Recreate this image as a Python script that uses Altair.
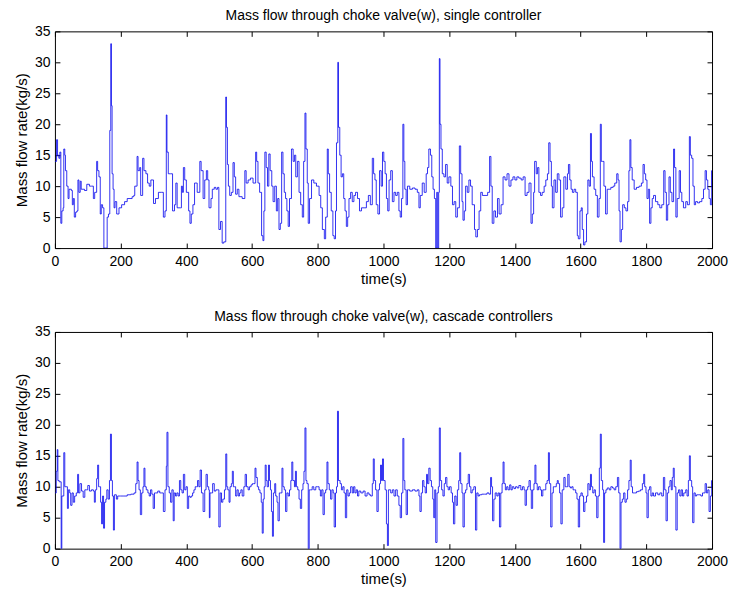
import altair as alt
import pandas as pd

TITLE_TOP = "Mass flow through choke valve(w), single controller"
TITLE_BOTTOM = "Mass flow through choke valve(w), cascade controllers"
X_TITLE = "time(s)"
Y_TITLE = "Mass flow rate(kg/s)"
X_TICKS = [0, 200, 400, 600, 800, 1000, 1200, 1400, 1600, 1800, 2000]
Y_TICKS = [0, 5, 10, 15, 20, 25, 30, 35]

# (time s, mass flow kg/s)
single = [
    (0, 14), (5, 17.5), (8, 15), (12, 14.5), (15, 15.5), (18, 4), (21, 6), (25, 6.5), (27, 16), (30, 15),
    (32, 12.5), (36, 10), (40, 8), (43, 9.5), (50, 9.3), (53, 7), (56, 8), (59, 5), (63, 5.8), (67, 6),
    (70, 11), (73, 9), (77, 10.8), (80, 9.5), (90, 9.3), (97, 10.3), (105, 10), (112, 10), (117, 8), (121, 9),
    (127, 14), (130, 12.5), (134, 11.5), (138, 5.5), (141, 7), (145, 6.5), (149, 0), (159, 5), (163, 5.5), (167, 19),
    (170, 33), (172, 23), (174, 12), (177, 9.5), (180, 6.5), (183, 7.5), (188, 5.5), (195, 6.5), (203, 7), (212, 7.5),
    (220, 8), (235, 8.3), (240, 8.5), (243, 10), (250, 14.8), (253, 12.5), (258, 13), (261, 8.5), (267, 14.5), (271, 12.5),
    (277, 12), (282, 10.5), (287, 10), (292, 11), (300, 7.2), (306, 8), (315, 9), (325, 9), (330, 5), (335, 6),
    (339, 21.5), (341, 15.5), (345, 12), (352, 12), (358, 6), (364, 7), (368, 10.5), (372, 6.5), (382, 6.5), (385, 10),
    (388, 9), (391, 13), (395, 11), (400, 9), (407, 6), (411, 4), (415, 5.5), (420, 7), (425, 10.5), (433, 9),
    (441, 14), (445, 12.5), (451, 8), (456, 11), (461, 12.5), (465, 11), (469, 6.5), (475, 8), (479, 9.5), (485, 9.8),
    (490, 9.5), (495, 9.8), (499, 3), (504, 4.3), (509, 0.8), (514, 1), (520, 24.4), (522, 19.5), (525, 13.5), (528, 10),
    (532, 8.5), (537, 9), (542, 13.8), (546, 11.5), (550, 8.7), (555, 9.5), (560, 8.3), (570, 8), (578, 12.5), (582, 10.5),
    (588, 11), (595, 11.3), (603, 10.5), (611, 15.5), (614, 14), (618, 10.5), (623, 9), (629, 2), (633, 1.2), (636, 6),
    (639, 15.5), (643, 13), (647, 10), (651, 15.2), (655, 12.5), (660, 10), (664, 7.5), (669, 10), (674, 6), (678, 8),
    (682, 3), (686, 4), (690, 15.5), (694, 12), (698, 9), (702, 8), (706, 6), (710, 3.5), (714, 8), (720, 16),
    (725, 14), (729, 15), (733, 11.5), (738, 14), (743, 9), (748, 7), (753, 5), (757, 14), (761, 21.8), (764, 16),
    (768, 10.5), (771, 4), (775, 8), (781, 11), (788, 10.5), (796, 10), (804, 8.5), (809, 6.5), (814, 3), (820, 1.5),
    (824, 5), (829, 16), (832, 12), (836, 9), (841, 6), (846, 2), (850, 1.5), (854, 6), (857, 17), (861, 30),
    (863, 19.5), (867, 15), (871, 11.5), (875, 12), (879, 8), (883, 6), (887, 3.5), (891, 5), (895, 8), (900, 9),
    (905, 7.5), (910, 8.5), (915, 9), (921, 8), (927, 6), (933, 6.5), (941, 6.5), (948, 7.5), (954, 8.5), (960, 7),
    (966, 14.5), (970, 12), (974, 11), (978, 7), (983, 5.5), (988, 12.5), (993, 10), (997, 15.5), (1001, 14), (1005, 12),
    (1009, 8), (1013, 6), (1017, 11), (1022, 12.5), (1027, 7.5), (1032, 9), (1037, 8.5), (1042, 9), (1047, 6), (1051, 5),
    (1055, 8), (1059, 20), (1062, 14), (1065, 9.5), (1069, 7), (1073, 10), (1080, 9.5), (1088, 9.7), (1096, 9.5), (1103, 9),
    (1108, 6.5), (1112, 8.5), (1118, 10.5), (1124, 9), (1130, 12), (1134, 13), (1138, 16), (1143, 15), (1147, 11.5), (1151, 9.5),
    (1155, 8), (1159, 0), (1162, 9), (1165, 0), (1168, 9), (1170, 30.6), (1172, 20), (1175, 16), (1179, 12), (1184, 11.5),
    (1189, 13.5), (1194, 10.5), (1199, 11.5), (1205, 10), (1210, 7), (1215, 7.5), (1220, 5), (1225, 6.5), (1231, 16.5), (1235, 12),
    (1239, 7.5), (1242, 4.5), (1246, 6), (1250, 10), (1255, 9), (1260, 11), (1265, 10), (1270, 7), (1277, 3), (1281, 1.8),
    (1286, 3), (1291, 6), (1296, 9), (1301, 8.5), (1309, 8.5), (1317, 9), (1323, 14.8), (1327, 10), (1331, 4), (1336, 6),
    (1341, 5), (1347, 8), (1352, 5.5), (1358, 7), (1364, 11.5), (1370, 11), (1376, 12), (1382, 10), (1388, 11), (1394, 11.5),
    (1400, 11), (1406, 11.5), (1412, 11.3), (1419, 11), (1425, 11.5), (1431, 8.5), (1437, 9), (1443, 10.5), (1449, 4), (1453, 5.5),
    (1457, 9), (1460, 14), (1465, 12), (1469, 13), (1473, 9), (1478, 8.5), (1483, 9), (1489, 10), (1494, 11), (1499, 12),
    (1503, 17), (1507, 14), (1511, 10), (1514, 6.5), (1519, 11), (1524, 9), (1529, 12), (1534, 11), (1539, 5), (1544, 6.5),
    (1549, 11.5), (1555, 9.5), (1560, 12), (1563, 13.5), (1567, 11), (1571, 9.5), (1575, 9), (1580, 9.5), (1585, 9), (1590, 2),
    (1593, 1.5), (1598, 6), (1602, 6.5), (1605, 3), (1609, 0.5), (1613, 1), (1618, 5.5), (1622, 11), (1626, 10), (1630, 18.5),
    (1633, 14), (1636, 11.5), (1641, 9.5), (1646, 8.5), (1651, 5), (1656, 8), (1660, 20), (1663, 14), (1667, 14), (1671, 10),
    (1676, 5.5), (1681, 9.5), (1687, 9.5), (1692, 9.8), (1699, 10), (1704, 10.5), (1710, 12), (1714, 11), (1717, 6), (1720, 1),
    (1724, 3), (1728, 7), (1733, 6.5), (1738, 6), (1743, 7.5), (1747, 12.5), (1750, 17.5), (1753, 13), (1757, 11), (1763, 9.5),
    (1770, 9.8), (1778, 10), (1785, 10.5), (1790, 13.5), (1794, 12), (1798, 11), (1802, 8), (1806, 9.5), (1810, 4), (1814, 6.5),
    (1818, 8), (1822, 8.5), (1828, 7.5), (1835, 7), (1841, 6.5), (1847, 7), (1853, 12.5), (1857, 9), (1861, 4.5), (1865, 7),
    (1869, 11.5), (1873, 9), (1878, 7.5), (1883, 16), (1886, 13), (1890, 5), (1894, 8), (1900, 12.5), (1904, 9), (1908, 7.5),
    (1913, 6.5), (1920, 7.5), (1925, 7), (1931, 18), (1934, 15), (1938, 14.5), (1942, 10), (1946, 7), (1950, 7.5), (1956, 7.3),
    (1962, 7.5), (1969, 8), (1974, 9.5), (1979, 12.5), (1983, 11), (1987, 9.5), (1991, 8), (1995, 7), (1999, 12.5), (2000, 10),
]

# (time s, mass flow kg/s)
cascade = [
    (0, 9), (1, 9), (4, 12.5), (7, 16), (9, 11), (13, 10.8), (19, 0), (21, 8.5), (27, 15.5), (30, 10),
    (34, 10), (38, 6.5), (41, 9.5), (45, 9), (48, 7), (52, 9), (56, 7.5), (60, 8.5), (65, 9), (69, 12),
    (72, 9), (76, 10.5), (81, 9.3), (86, 8.3), (91, 9.5), (96, 9.5), (100, 10.2), (105, 9.3), (111, 9.5), (117, 9.3),
    (120, 7.5), (123, 9.5), (127, 11.3), (130, 13.5), (133, 10), (136, 10), (139, 7.5), (142, 4), (145, 8.5), (148, 3.3),
    (151, 7.5), (155, 8), (158, 9.5), (162, 8), (166, 11), (169, 18.5), (172, 11), (175, 8.5), (178, 3), (181, 8.7),
    (187, 8), (191, 8.5), (200, 8.5), (210, 8.5), (220, 8.7), (231, 8.8), (241, 9), (246, 10.5), (250, 14), (253, 11),
    (256, 9.5), (260, 5.5), (264, 9), (268, 10), (271, 13), (274, 10), (278, 9.5), (283, 9), (287, 8.5), (291, 9.5),
    (295, 8.8), (299, 6.5), (303, 9), (307, 9), (313, 9.3), (319, 9), (325, 9), (330, 6), (335, 9.5), (339, 13.3),
    (341, 18.8), (344, 10), (348, 9), (352, 7.5), (356, 9.5), (360, 4.5), (363, 9), (367, 8.5), (371, 9), (375, 8.5),
    (379, 11), (383, 9.5), (387, 9), (391, 12), (395, 9.5), (399, 10), (403, 6.5), (407, 8.5), (411, 8.3), (415, 8.5),
    (419, 9), (423, 9.5), (427, 10), (431, 10), (434, 11), (438, 10), (442, 12.7), (446, 9), (451, 6), (456, 9.5),
    (460, 12), (464, 10), (468, 9.5), (470, 5), (472, 9), (476, 9), (480, 10.5), (485, 9.3), (490, 9.5), (494, 9.5),
    (499, 3.5), (503, 9), (507, 7.5), (511, 8), (516, 9.5), (520, 15.3), (523, 10), (526, 9.5), (530, 7.5), (533, 10),
    (537, 10.5), (540, 12.5), (543, 10), (546, 10), (550, 8.5), (554, 9.5), (558, 8.5), (562, 9), (566, 9.5), (570, 8.5),
    (575, 10), (579, 12), (583, 10), (588, 9.5), (592, 10), (597, 10.3), (601, 10.5), (605, 10.5), (609, 13), (612, 11.5),
    (616, 10), (620, 9.5), (624, 9), (628, 7.5), (631, 2.5), (634, 8), (637, 10), (640, 13.5), (643, 11), (646, 10),
    (650, 13.5), (653, 11), (656, 9.5), (659, 6), (662, 2), (665, 9), (669, 10.5), (672, 8.5), (676, 7.5), (679, 4.5),
    (683, 9), (687, 9), (691, 13), (694, 10), (698, 9.5), (702, 6), (706, 9), (710, 8.5), (714, 9.5), (718, 11),
    (721, 14), (724, 11), (729, 10), (732, 12.5), (735, 10), (739, 9.5), (743, 8), (747, 6.5), (751, 9.5), (755, 10.5),
    (758, 12.5), (761, 19.5), (764, 11), (767, 10.5), (771, 0), (774, 9.5), (778, 9.5), (783, 10), (788, 9.5), (794, 10),
    (799, 10), (804, 9.5), (808, 8.5), (812, 9.5), (816, 5.5), (820, 9), (824, 9.5), (828, 14), (831, 10.5), (835, 9.5),
    (839, 8), (843, 9.5), (847, 9), (850, 3.5), (854, 9), (857, 10), (860, 22.2), (863, 11), (868, 10.5), (872, 9.5),
    (876, 10), (880, 9), (884, 5), (888, 9.5), (892, 8.5), (896, 9), (900, 10), (905, 9), (909, 10), (913, 9),
    (917, 9.5), (921, 8.5), (925, 9.3), (931, 9), (938, 9.3), (944, 8.5), (950, 9), (956, 8.7), (961, 8.5), (966, 10.5),
    (969, 14.5), (972, 11), (976, 9.5), (980, 6), (984, 9.5), (988, 10.5), (991, 13.5), (994, 11), (997, 14.5), (1000, 11),
    (1005, 9.5), (1009, 4), (1012, 0.5), (1015, 9.5), (1022, 9), (1027, 9.5), (1032, 8.5), (1037, 9.5), (1042, 8.5), (1047, 7),
    (1051, 5), (1055, 9), (1059, 17.8), (1062, 11), (1065, 9.5), (1069, 5.5), (1073, 9.5), (1080, 9.3), (1088, 9.5), (1096, 9.3),
    (1103, 9.5), (1108, 8.5), (1111, 6), (1115, 9), (1119, 11), (1123, 10), (1127, 9), (1131, 12), (1134, 10.5), (1138, 13),
    (1142, 11), (1146, 10), (1150, 8), (1153, 5), (1156, 9.5), (1159, 1), (1163, 9), (1167, 10), (1170, 19.5), (1173, 11),
    (1177, 9.5), (1181, 8.5), (1185, 10.5), (1189, 11.5), (1193, 10), (1197, 9.5), (1201, 10), (1206, 9), (1210, 7.5), (1213, 4),
    (1217, 8.5), (1221, 7), (1225, 9.5), (1229, 11), (1232, 15.5), (1235, 10.5), (1239, 9), (1242, 3.5), (1246, 9), (1250, 9.5),
    (1254, 10.5), (1258, 12), (1262, 10), (1266, 9), (1270, 9.5), (1275, 10), (1280, 3), (1284, 9), (1288, 8.5), (1292, 8.7),
    (1299, 8.8), (1307, 8.8), (1315, 9), (1321, 8.8), (1326, 11.5), (1329, 10), (1332, 4.5), (1336, 8), (1340, 9), (1345, 8.5),
    (1349, 9), (1353, 3.5), (1357, 9), (1361, 10.5), (1364, 14), (1367, 10.5), (1371, 9.5), (1375, 10), (1379, 9.5), (1384, 10.3),
    (1388, 9.5), (1392, 10), (1397, 9.7), (1402, 10), (1407, 9.8), (1412, 10.2), (1418, 9.5), (1423, 10), (1428, 9.5), (1431, 7),
    (1435, 9.5), (1439, 10), (1443, 11), (1447, 9.5), (1450, 6.5), (1454, 9.5), (1458, 10.5), (1461, 13.5), (1464, 10.5), (1468, 9.5),
    (1472, 10), (1477, 9.5), (1481, 8.5), (1485, 9.5), (1489, 9.5), (1494, 10.5), (1498, 11), (1502, 15.5), (1505, 10.5), (1509, 3.5),
    (1513, 9), (1517, 10), (1521, 10), (1526, 10.5), (1529, 11), (1532, 10.5), (1536, 9), (1540, 4), (1544, 9.5), (1549, 11.5),
    (1553, 10), (1557, 10), (1561, 12), (1565, 10), (1569, 9.8), (1573, 10), (1577, 9.5), (1581, 9.5), (1585, 9), (1589, 8),
    (1593, 3.5), (1597, 8.5), (1601, 9), (1605, 8.5), (1609, 6), (1613, 7.5), (1618, 8.5), (1622, 10.5), (1626, 9.5), (1630, 12),
    (1633, 10), (1637, 9), (1641, 9.5), (1645, 8.5), (1649, 5), (1653, 8.5), (1657, 13), (1660, 18.5), (1663, 11), (1667, 9.5),
    (1670, 1), (1673, 9), (1677, 9.5), (1681, 9.8), (1687, 9.5), (1692, 10), (1697, 9.8), (1702, 9.5), (1707, 10), (1712, 11.5),
    (1716, 9), (1720, 0), (1723, 7.5), (1727, 8), (1731, 9), (1735, 7.5), (1739, 8), (1743, 9.5), (1747, 11), (1751, 14.3),
    (1754, 10), (1758, 9), (1764, 9), (1770, 9.2), (1776, 9.3), (1782, 9.5), (1788, 10.5), (1792, 12), (1795, 10), (1799, 9),
    (1802, 5), (1806, 9.5), (1810, 10), (1814, 8.5), (1818, 9), (1822, 8.5), (1828, 9), (1835, 8.7), (1841, 9), (1847, 8.5),
    (1852, 11.5), (1856, 9.5), (1860, 4.5), (1864, 9), (1868, 10), (1872, 11), (1876, 9.5), (1879, 11.5), (1882, 13), (1885, 10),
    (1890, 3), (1894, 9), (1898, 9.5), (1902, 8.5), (1906, 9.5), (1910, 8.5), (1914, 9), (1920, 9.5), (1924, 8.5), (1928, 11),
    (1931, 15), (1934, 11), (1938, 10), (1941, 4.2), (1945, 9), (1949, 8.5), (1953, 8.7), (1960, 8.7), (1966, 8.5), (1971, 9),
    (1975, 9), (1979, 10.5), (1983, 9), (1987, 9.5), (1991, 6), (1995, 8.5), (1999, 11), (2000, 10),
]

FONT = "Liberation Sans"
LINE_COLOR = "#0000ee"


def panel(pairs, title):
    df = pd.DataFrame(pairs, columns=["t", "w"])
    xs = alt.Scale(domain=[0, 2000], nice=False, zero=False)
    ys = alt.Scale(domain=[0, 35], nice=False)
    tick = dict(tickSize=5, offset=-5, domain=False, grid=False, tickColor="#000000", tickWidth=1,
                labelFlush=False)
    line = alt.Chart(df).mark_line(
        interpolate="step-after", color=LINE_COLOR, strokeWidth=0.8, clip=True
    ).encode(
        x=alt.X("t:Q", scale=xs, axis=alt.Axis(values=X_TICKS, title=X_TITLE, format="d",
                                               labelPadding=6, titlePadding=3, **tick)),
        y=alt.Y("w:Q", scale=ys, axis=alt.Axis(values=Y_TICKS, title=Y_TITLE, format="d",
                                               labelPadding=5, titlePadding=5, **tick)),
    )
    ghost = alt.Chart(df).mark_line(opacity=0).encode(
        x=alt.X("t:Q", scale=xs, axis=alt.Axis(orient="top", values=X_TICKS, labels=False, title=None, **tick)),
        y=alt.Y("w:Q", scale=ys, axis=alt.Axis(orient="right", values=Y_TICKS, labels=False, title=None, **tick)),
    )
    return alt.layer(
        line, ghost,
        title=alt.TitleParams(title, fontSize=14, font=FONT, fontWeight="normal", color="#000000", offset=1),
    ).resolve_axis(x="independent", y="independent").properties(width=658, height=217)


chart = alt.vconcat(
    panel(single, TITLE_TOP),
    panel(cascade, TITLE_BOTTOM),
    spacing=84,
    bounds="flush",
).properties(
    padding={"left": 13, "top": 8, "right": 5, "bottom": 5},
    background="#ffffff",
).configure_view(
    stroke="#000000", strokeWidth=1
).configure_axis(
    labelFont=FONT, titleFont=FONT, labelFontSize=14, titleFontSize=15,
    titleFontWeight="normal", labelColor="#000000", titleColor="#000000",
)

chart.save("out.html", embed_options={"renderer": "svg", "actions": False})
